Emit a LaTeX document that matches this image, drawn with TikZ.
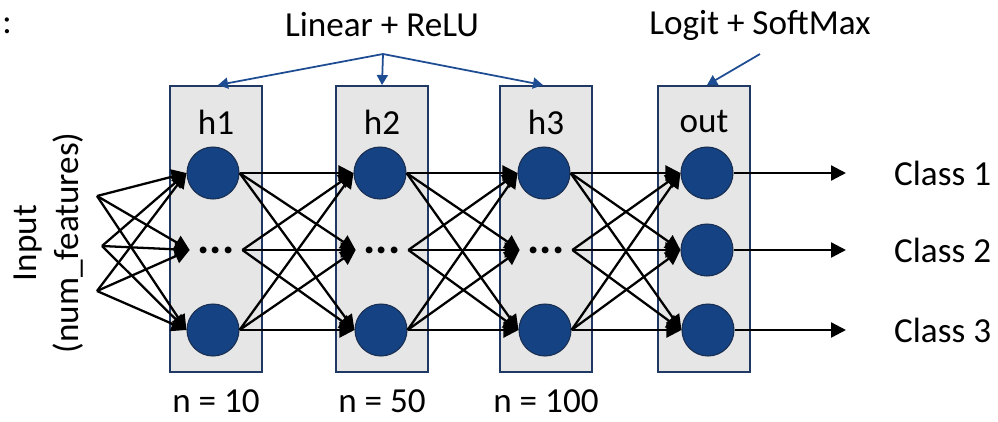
\documentclass[tikz,border=0pt]{standalone}
\usepackage{fontspec}
\setmainfont{Carlito}
\usetikzlibrary{arrows.meta}
\definecolor{unitblue}{RGB}{20,66,130}
\definecolor{boxblue}{RGB}{31,56,100}
\definecolor{boxgray}{RGB}{230,230,230}
\definecolor{noteblue}{RGB}{30,76,146}
\begin{document}
\begin{tikzpicture}[
  layer/.style={draw=boxblue, line width=1.1pt, fill=boxgray, minimum width=1.84cm, minimum height=5.72cm, inner sep=0pt},
  unit/.style={circle, draw=boxblue!80!black, line width=0.6pt, fill=unitblue, minimum size=1.04cm, inner sep=0pt},
  gap/.style={circle, minimum size=1.04cm, inner sep=0pt, font=\fontsize{26}{26}\selectfont\bfseries},
  conn/.style={line width=1.3pt, -{Triangle[length=3mm, width=3mm]}},
  note/.style={draw=noteblue, line width=1pt, -{Triangle[length=2mm, width=2.2mm]}},
  size/.style={anchor=base, inner sep=0pt},
  font=\fontsize{20}{24}\selectfont
]
  \useasboundingbox (0,0) rectangle (19.96,-8.42);
  \node at (0.14,-0.52) {:};

  % layers
  \node[layer] (L1) at (4.32,-4.58) {};
  \node[layer] (L2) at (7.64,-4.58) {};
  \node[layer] (L3) at (10.92,-4.58) {};
  \node[layer] (L4) at (14.08,-4.58) {};
  \node at (4.32,-2.44) {h1};
  \node at (7.64,-2.44) {h2};
  \node at (10.92,-2.44) {h3};
  \node at (14.08,-2.44) {out};

  % units
  \node[unit] (h1a) at (4.26,-3.46) {};
  \node[gap]  (h1b) at (4.32,-5.0) {...};
  \node[unit] (h1c) at (4.26,-6.6) {};
  \node[unit] (h2a) at (7.60,-3.46) {};
  \node[gap]  (h2b) at (7.64,-5.0) {...};
  \node[unit] (h2c) at (7.62,-6.6) {};
  \node[unit] (h3a) at (10.88,-3.46) {};
  \node[gap]  (h3b) at (10.92,-5.0) {...};
  \node[unit] (h3c) at (10.90,-6.6) {};
  \node[unit] (o1) at (14.14,-3.46) {};
  \node[unit] (o2) at (14.14,-5.0) {};
  \node[unit] (o3) at (14.16,-6.6) {};

  % input
  \node[rotate=90, align=center] (in) at (0.98,-4.86) {Input\\(num\_features)};
  \coordinate (x1) at (1.94,-3.92);
  \coordinate (x2) at (2.04,-4.92);
  \coordinate (x3) at (1.94,-5.82);
  \foreach \s in {x1,x2,x3}
    \foreach \t in {h1a,h1b,h1c}
      \draw[conn] (\s) -- (\t.west);

  % fully connected
  \foreach \s in {h1a,h1b,h1c}
    \foreach \t in {h2a,h2b,h2c}
      \draw[conn] (\s.east) -- (\t.west);
  \foreach \s in {h2a,h2b,h2c}
    \foreach \t in {h3a,h3b,h3c}
      \draw[conn] (\s.east) -- (\t.west);
  \foreach \s in {h3a,h3b,h3c}
    \foreach \t in {o1,o2,o3}
      \draw[conn] (\s.east) -- (\t.west);

  % classes
  \coordinate (y1) at (16.92,-3.46);
  \coordinate (y2) at (16.92,-5.0);
  \coordinate (y3) at (16.92,-6.6);
  \draw[conn] (o1.east) -- (y1);
  \draw[conn] (o2.east) -- (y2);
  \draw[conn] (o3.east) -- (y3);
  \node[anchor=west] (c1) at (17.76,-3.46) {Class 1};
  \node[anchor=west] (c2) at (17.76,-5.0) {Class 2};
  \node[anchor=west] (c3) at (17.76,-6.6) {Class 3};

  % notes
  \node (lin) at (7.64,-0.5) {Linear + ReLU};
  \node (soft) at (15.2,-0.5) {Logit + SoftMax};
  \coordinate (lintip) at (7.66,-1.08);
  \coordinate (softtip) at (15.2,-1.08);
  \draw[note] (lintip) -- ([xshift=0.04cm]L1.north);
  \draw[note] (lintip) -- (L2.north);
  \draw[note] (lintip) -- ([xshift=-0.06cm]L3.north);
  \draw[note] (softtip) -- ([xshift=0.06cm]L4.north);

  % sizes
  \node[size] (n1) at (4.32,-8.24) {n = 10};
  \node[size] (n2) at (7.64,-8.24) {n = 50};
  \node[size] (n3) at (10.92,-8.24) {n = 100};
\end{tikzpicture}
\end{document}
